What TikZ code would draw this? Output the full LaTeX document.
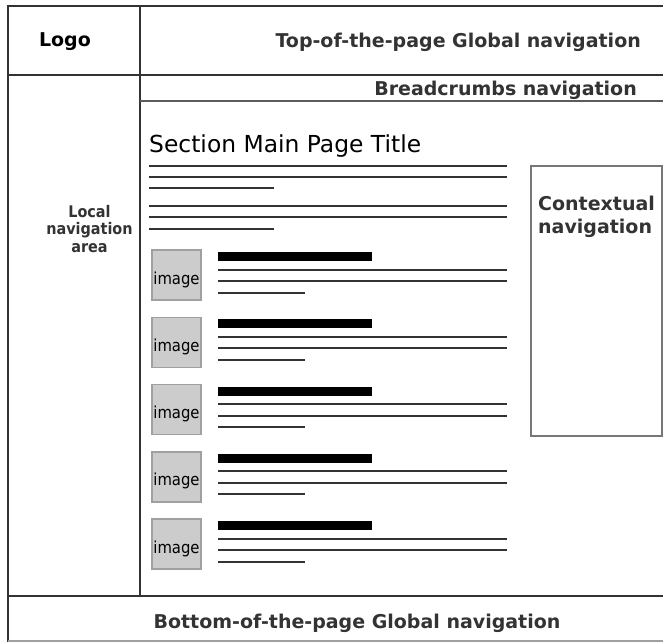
\documentclass[tikz,border=0pt]{standalone}
\usepackage{fontspec}
\setmainfont{DejaVu Sans}
\newfontfamily\condfont{DejaVu Sans Condensed}
\definecolor{framecol}{HTML}{333333}
\definecolor{labelcol}{HTML}{333333}
\definecolor{linecol}{HTML}{333333}
\definecolor{imgfill}{HTML}{CCCCCC}
\definecolor{imgdraw}{HTML}{A0A0A0}
\definecolor{ctxcol}{HTML}{777777}
\begin{document}
\begin{tikzpicture}[x=1pt,y=-1pt,
  frameline/.style={draw=framecol,line width=2pt},
  lbl/.style={font=\fontsize{19}{23.5}\selectfont\bfseries,text=labelcol,inner sep=0pt},
  smalllbl/.style={font=\condfont\fontsize{16}{17.5}\selectfont\bfseries,text=labelcol,inner sep=0pt},
  textline/.style={draw=linecol,line width=2pt},
  imgbox/.style={draw=imgdraw,fill=imgfill,line width=1.5pt},
  barbox/.style={fill=black},
  imgtext/.style={font=\condfont\fontsize{16.5}{18}\selectfont,inner sep=0pt,anchor=base}]
\useasboundingbox (0,0) rectangle (663,642);
\fill[white] (0,0) rectangle (663,642);
% frame
\draw[frameline] (8,6) -- (663,6);
\draw[frameline] (8,5) -- (8,642);
\draw[frameline] (8,75) -- (663,75);
\draw[frameline] (140,6) -- (140,596);
\draw[draw=framecol!80,line width=2pt] (140,101) -- (663,101);
\draw[frameline] (8,596) -- (663,596);
\draw[draw=imgdraw,line width=1.5pt] (8,641) -- (663,641);
% header texts
\node[lbl,text=black,anchor=base] (logo) at (65,47) {Logo};
\node[lbl,anchor=base east] (topnav) at (641,48) {Top-of-the-page Global navigation};
\node[lbl,anchor=base east] (crumbs) at (637,95) {Breadcrumbs navigation};
\node[smalllbl,align=center,anchor=base] (local) at (89.5,252) {Local\\navigation\\area};
\node[lbl,anchor=base] (bottomnav) at (357,628) {Bottom-of-the-page Global navigation};
% contextual box
\draw[draw=ctxcol,line width=2pt] (531,166) rectangle (662,436);
\node[lbl,align=left,anchor=base west] (ctx) at (538,233.5) {Contextual\\navigation};
% title and intro lines
\node[font=\fontsize{23.4}{27}\selectfont,inner sep=0pt,anchor=base west] (title) at (149,152) {Section Main Page Title};
\draw[textline] (149,165.7) -- (507,165.7);
\draw[textline] (149,176.7) -- (507,176.7);
\draw[textline] (149,188.3) -- (274,188.3);
\draw[textline] (149,206) -- (507,206);
\draw[textline] (149,217.3) -- (507,217.3);
\draw[textline] (149,229) -- (274,229);
% image blocks
\foreach \i in {0,...,4}{
  \begin{scope}[shift={(0,\i*67.25)}]
    \draw[imgbox] (152,250) rectangle (201,300);
    \node[imgtext] (img\i) at (176.5,284) {image};
    \fill[barbox] (218,252) rectangle (372,261);
    \draw[textline] (218,269.5) -- (507,269.5);
    \draw[textline] (218,281) -- (507,281);
    \draw[textline] (218,292.5) -- (305,292.5);
  \end{scope}
}
\end{tikzpicture}
\end{document}
